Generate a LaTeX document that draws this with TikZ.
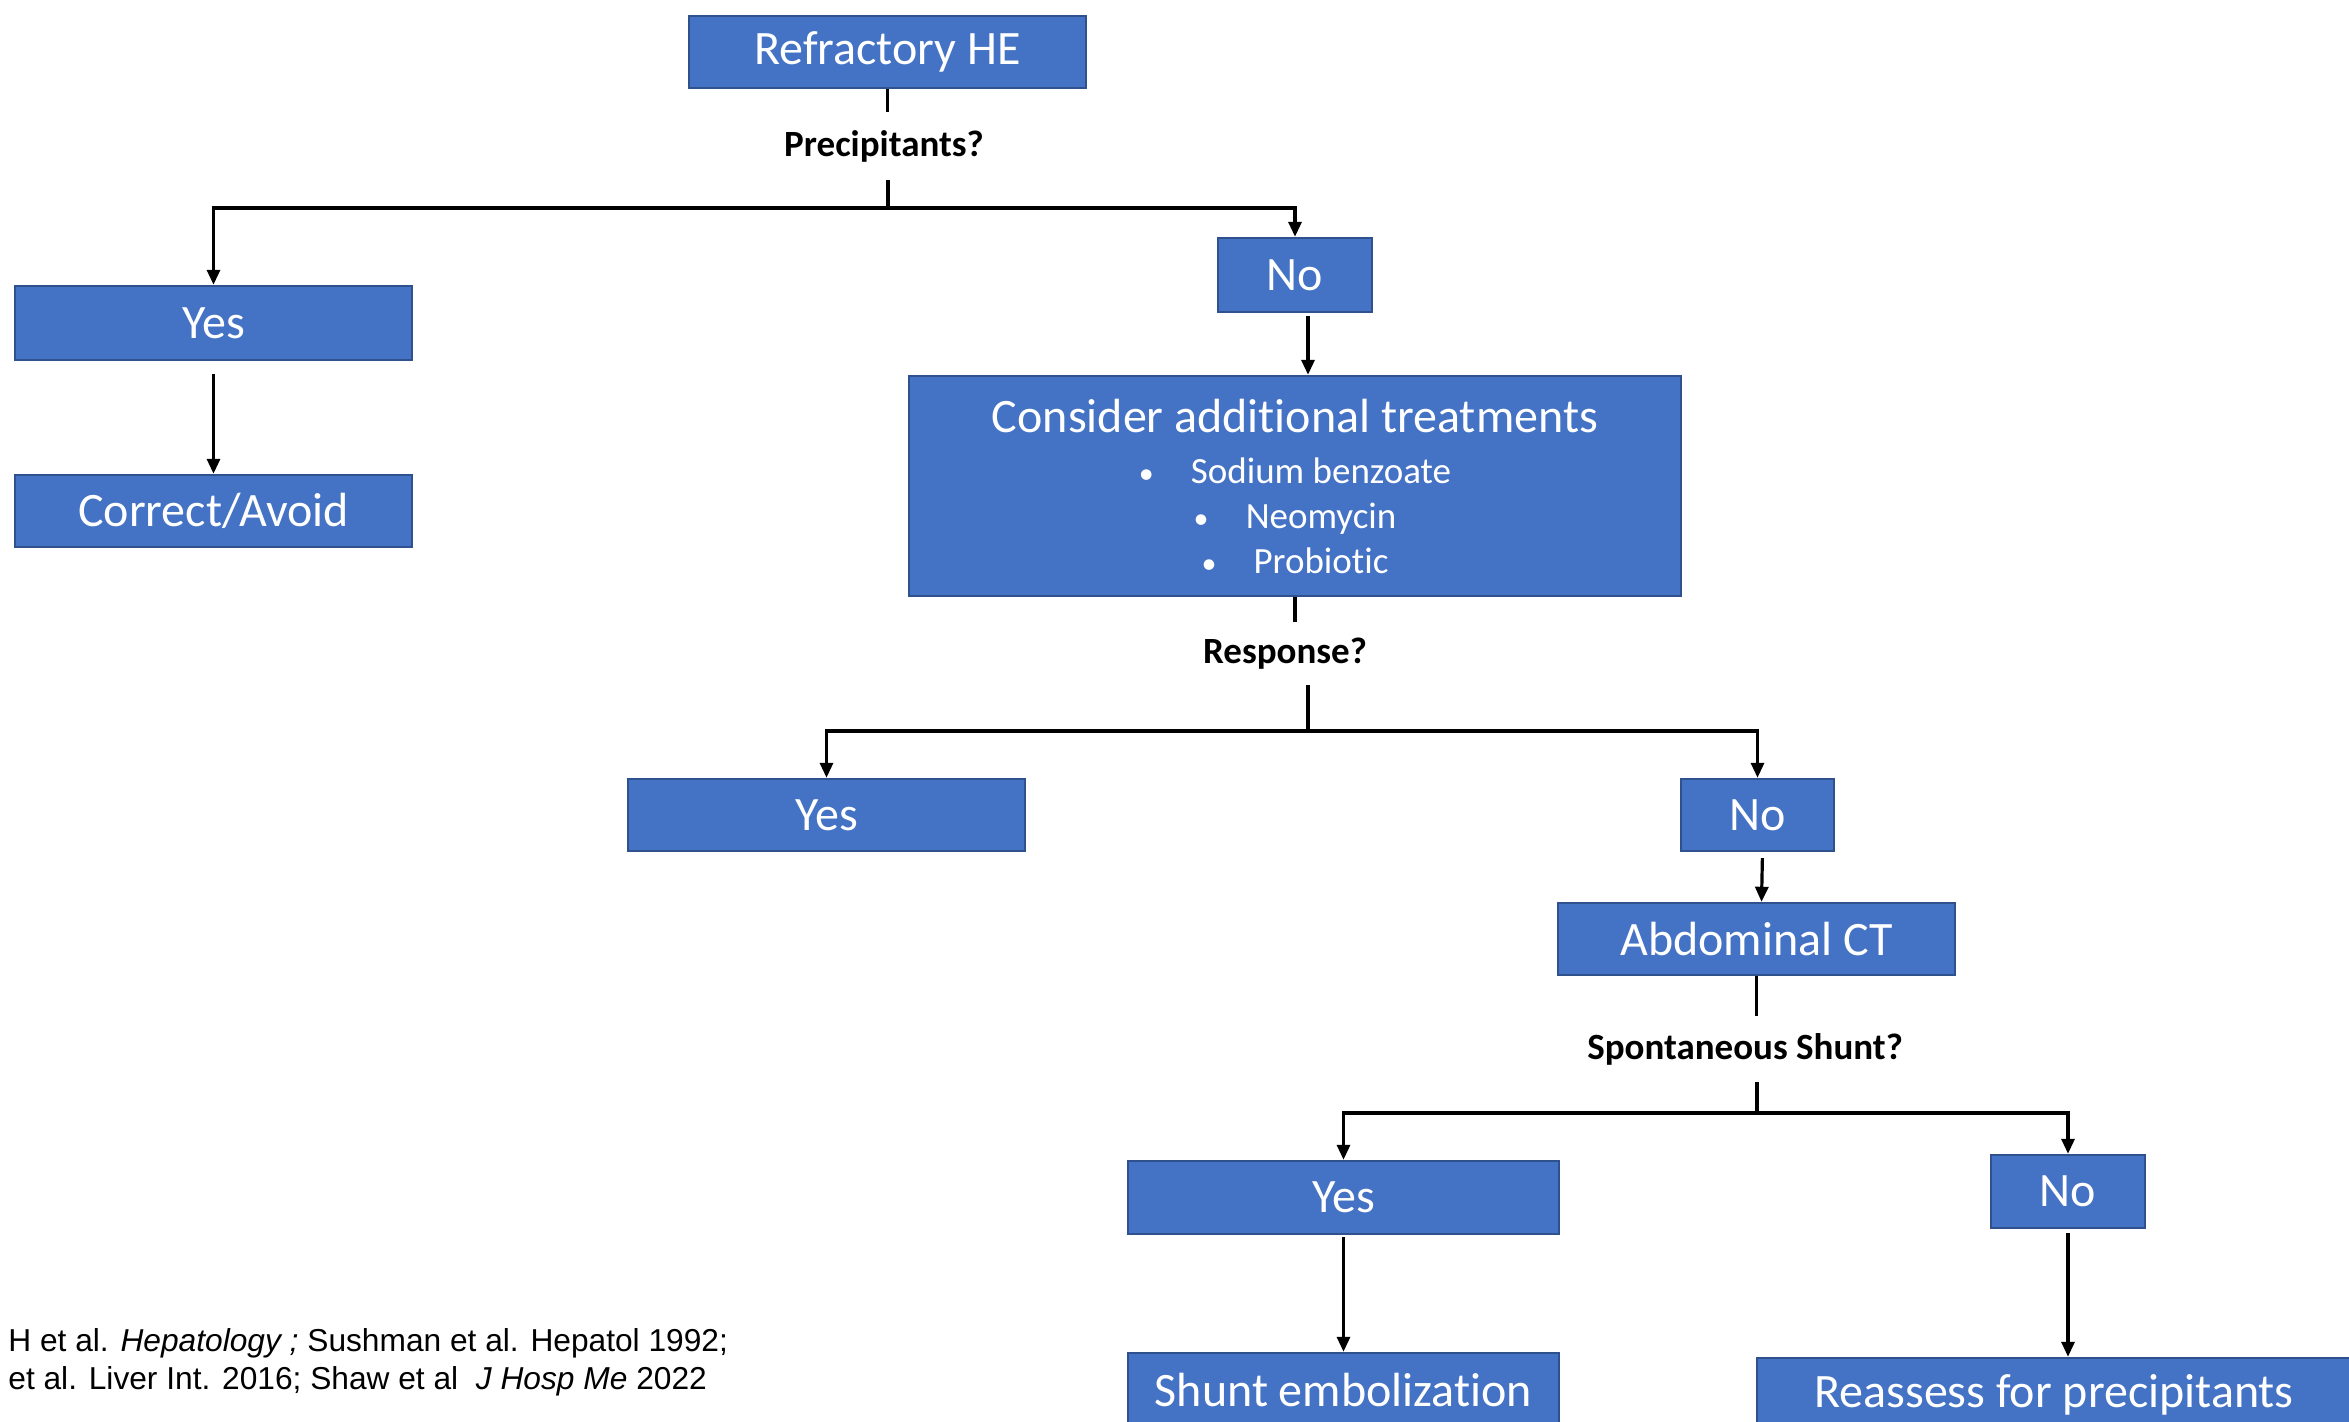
\documentclass[tikz,border=0pt]{standalone}
\usepackage{fontspec}
\setmainfont{Carlito}[Ligatures=NoCommon]
\newfontfamily\reffont{Liberation Sans}
\usetikzlibrary{arrows.meta}
\definecolor{boxfill}{HTML}{4472C4}
\definecolor{boxline}{HTML}{2F528F}
\newcommand{\blt}{\makebox[26pt][l]{\fontsize{15}{15}\selectfont\textbullet}}
\begin{document}
\begin{tikzpicture}[x=0.5pt,y=-0.5pt,
  >={Triangle[length=7.5pt,width=6.5pt]},
  box/.style={draw=boxline,line width=1.2pt,fill=boxfill,text=white,inner sep=0pt,
    font=\fontsize{24}{29}\selectfont},
  qlabel/.style={inner sep=0pt,font=\bfseries\fontsize{18.5}{22}\selectfont},
  link/.style={line width=1.6pt}]
\useasboundingbox (0,0) rectangle (2349,1422);
\clip (0,0) rectangle (2349,1422);
\node[box,minimum width=198.5pt,minimum height=36pt] (he) at (887.5,52) {Refractory HE};
\node[qlabel,minimum height=34pt] (prec) at (884,146) {Precipitants?};
\coordinate (j1) at (888,208);
\node[box,minimum width=198.5pt,minimum height=37pt] (yes1) at (213.5,323) {Yes};
\node[box,minimum width=198.5pt,minimum height=36pt] (fix) at (213.5,511) {Correct/Avoid};
\node[box,minimum width=77pt,minimum height=37pt] (no1) at (1295,275) {No};
\node[box,minimum width=386pt,minimum height=110pt,align=center,
  font=\fontsize{18.5}{22.5}\selectfont] (cons) at (1295,486)
  {{\fontsize{24}{29}\selectfont Consider additional treatments}\\[3pt]
   \blt Sodium benzoate\\
   \blt Neomycin\\
   \blt Probiotic};
\node[qlabel,minimum height=31.5pt] (resp) at (1285,653.5) {Response?};
\coordinate (j2) at (1308,731);
\node[box,minimum width=198.5pt,minimum height=36pt] (yes2) at (826.5,815) {Yes};
\node[box,minimum width=76.5pt,minimum height=36pt] (no2) at (1757.5,815) {No};
\node[box,minimum width=198.5pt,minimum height=36pt] (abd) at (1756.5,939) {Abdominal CT};
\node[qlabel,minimum height=33pt] (shq) at (1745,1049) {Spontaneous Shunt?};
\coordinate (j3) at (1757,1113);
\node[box,minimum width=215.5pt,minimum height=36.5pt] (yes3) at (1343.5,1197.5) {Yes};
\node[box,minimum width=77pt,minimum height=36.5pt] (no3) at (2068,1191.5) {No};
\node[box,minimum width=215.5pt,minimum height=37pt] (emb) at (1343.5,1390) {Shunt embolization};
\node[box,minimum width=297pt,minimum height=37pt] (reas) at (2054,1395) {Reassess for precipitants};
% references
\node[anchor=west,inner sep=0pt,align=left,font=\reffont\fontsize{15.85}{19}\selectfont] (refs) at (8,1362)
  {H et al. \textit{Hepatology ;} Sushman et al. Hepatol 1992;\\
   et al. Liver Int. 2016; Shaw et al \ \textit{J Hosp Me} 2022};
% connectors
\draw[link] (he.south) -- (he.south |- prec.north);
\draw[link] (j1 |- prec.south) -- (j1);
\draw[link,->] (j1) -| (yes1);
\draw[link,->] (j1) -| (no1);
\draw[link,->,shorten <=6.5pt] (yes1) -- (fix);
\draw[link,->,shorten <=1.5pt] ([xshift=6.5pt]no1.south) -- ([xshift=6.5pt]cons.north);
\draw[link] (cons.south) -- (cons.south |- resp.north);
\draw[link] (j2 |- resp.south) -- (j2);
\draw[link,->] (j2) -| (yes2);
\draw[link,->] (j2) -| (no2);
\draw[link,->,shorten <=3pt] ([xshift=2.5pt]no2.south) -- ([xshift=2.5pt]abd.north);
\draw[link] (abd.south) -- (abd.south |- shq.north);
\draw[link] (j3 |- shq.south) -- (j3);
\draw[link,->] (j3) -| (yes3);
\draw[link,->] (j3) -| (no3);
\draw[link,->,shorten <=1pt] (yes3) -- (emb);
\draw[link,->,shorten <=2pt] (no3) -- (no3 |- reas.north);
\end{tikzpicture}
\end{document}
